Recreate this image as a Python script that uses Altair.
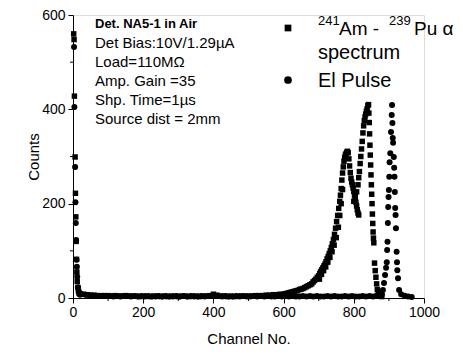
import altair as alt
import pandas as pd

# ---------------- data ----------------
# 241Am-239Pu alpha spectrum (squares)
alpha_ch = [2, 3, 4, 6, 7, 8, 9, 10, 11, 12, 14, 16, 18,
            20, 30, 40, 50, 60, 70, 80, 90, 100, 110, 120, 130, 140, 150, 160, 170, 180, 190,
            200, 210, 220, 230, 240, 250, 260, 270, 280, 290, 300, 310, 320, 330, 340, 350,
            360, 370, 380, 390, 400, 410, 420, 430, 440, 450, 460, 470, 480, 490, 500, 510,
            520, 530, 540, 550, 560, 570, 580, 590,
            600, 605, 610, 615, 620, 625, 630, 635, 640, 645, 650, 655, 660, 665, 670, 675,
            680, 684, 688, 692, 696, 700, 703, 706, 709, 712, 715, 718, 721, 724, 727, 730,
            733, 736, 739, 742, 745, 748, 751, 754, 757, 760, 762, 764, 766, 768, 770, 772,
            774, 776, 778, 780, 782, 784, 786, 788, 790, 792, 794, 796, 798, 800, 802, 804,
            806, 808, 810, 812, 814,
            702, 708, 714, 720, 726, 732, 738, 744, 750, 756, 760, 764, 768,
            800, 804, 808,
            812, 814, 816, 818, 820, 822, 824, 826, 828, 830, 832, 834, 836, 838, 840, 842,
            843, 844, 845, 846, 847, 848, 849, 850, 851, 852, 853, 854, 855, 856, 857, 859,
            861, 863, 865, 867, 870, 875, 880]
alpha_counts = [560, 548, 428, 299, 222, 172, 120, 82, 55, 35, 22, 14, 10,
                9, 8, 7, 6, 6, 5, 5, 5, 5, 4, 5, 4, 4, 5, 4, 4, 4, 3,
                4, 4, 3, 4, 4, 3, 4, 3, 4, 4, 3, 4, 4, 3, 4, 4,
                3, 4, 4, 5, 8, 6, 4, 4, 3, 4, 3, 4, 4, 4, 4, 4,
                5, 5, 5, 6, 6, 7, 7, 8,
                8, 9, 10, 11, 12, 13, 14, 15, 16, 18, 19, 20, 22, 24, 26, 28,
                30, 34, 37, 40, 44, 47, 52, 56, 60, 64, 68, 72, 77, 83, 88, 94,
                100, 107, 115, 124, 135, 148, 162, 175, 190, 205, 218, 232, 250, 265, 278, 290,
                298, 303, 306, 309, 311, 308, 295, 280, 266, 254, 246, 240, 233, 226, 219, 211,
                203, 195, 187, 180, 176,
                40, 50, 58, 66, 76, 86, 98, 112, 128, 150, 175, 200, 230,
                205, 215, 225,
                240, 255, 268, 285, 300, 316, 332, 350, 365, 376, 384, 390, 396, 401, 408, 410,
                392, 372, 348, 324, 303, 282, 261, 240, 220, 200, 178, 158, 140, 127, 117, 74,
                58, 44, 30, 18, 10, 5, 3]

# El Pulse (circles)
pulse_ch = [3, 4, 6, 7, 8, 9, 10, 11, 12, 14, 16, 18, 20,
            25, 35, 45, 55, 65, 75, 85, 95, 105, 115, 125, 135, 145, 155, 165, 175, 185, 195,
            205, 215, 225, 235, 245, 255, 265, 275, 285, 295, 305, 315, 325, 335, 345, 355,
            365, 375, 385, 395, 405, 415, 425, 435, 445, 455, 465, 475, 485, 495, 505, 515,
            525, 535, 545, 555, 565, 575, 585, 595, 605, 615, 625, 635, 645, 655, 665, 675,
            685, 695, 705, 715, 725, 735, 745, 755, 765, 775, 785, 795, 805, 815, 825, 835,
            845, 855, 865, 875,
            880, 883, 886, 889, 892, 894, 895, 896, 897, 898, 899, 900, 901, 902, 904, 906,
            908, 909, 910, 911, 912, 914, 915, 916, 917, 918, 919, 920, 922, 923, 924, 926,
            929, 935, 945, 955, 965]
pulse_counts = [532, 405, 278, 203, 159, 123, 81, 66, 45, 23, 13, 9, 7,
                8, 7, 6, 5, 5, 4, 4, 4, 4, 3, 4, 3, 4, 4, 3, 4, 3, 4,
                3, 4, 3, 3, 4, 3, 4, 3, 3, 4, 3, 4, 3, 4, 3, 3,
                4, 3, 4, 4, 5, 4, 3, 4, 3, 3, 4, 3, 4, 3, 3, 4,
                3, 4, 3, 4, 3, 3, 4, 3, 4, 3, 4, 3, 3, 4, 3, 4,
                3, 4, 3, 3, 4, 3, 4, 3, 3, 4, 3, 4, 3, 3, 4, 3,
                4, 3, 5, 6,
                8, 17, 32, 49, 64, 76, 102, 119, 159, 193, 214, 229, 257, 288, 307, 352,
                388, 409, 371, 339, 329, 299, 276, 257, 225, 191, 176, 148, 98, 76, 59, 42,
                17, 8, 5, 3, 2]

x_major = [0, 200, 400, 600, 800, 1000]
x_minor = [100, 300, 500, 700, 900]
y_major = [0, 200, 400, 600]
y_minor = [100, 300, 500]

info_title = "Det. NA5-1 in Air"
info_lines = ["Det Bias:10V/1.29\u00b5A", "Load=110M\u03a9", "Amp. Gain =35",
              "Shp. Time=1\u00b5s", "Source dist = 2mm"]

FONT = "Liberation Sans"
W, H = 351, 283

alpha_df = pd.DataFrame({"ch": alpha_ch, "counts": alpha_counts})
pulse_df = pd.DataFrame({"ch": pulse_ch, "counts": pulse_counts})

xs = alt.Scale(domain=[0, 1000], nice=False)
ys = alt.Scale(domain=[0, 600], nice=False)

xaxis = alt.Axis(values=x_major, format="d", title="Channel No.", grid=False, tickSize=5,
                 labelFontSize=14, titleFontSize=15, titleFontWeight="normal",
                 labelFont=FONT, titleFont=FONT, labelColor="black", titleColor="black",
                 domainColor="black", tickColor="black", labelPadding=2, titlePadding=12,
                 labelFlush=False, labelOverlap=False)
yaxis = alt.Axis(values=y_major, format="d", title="Counts", grid=False, tickSize=5,
                 labelFontSize=14, titleFontSize=15, titleFontWeight="normal",
                 labelFont=FONT, titleFont=FONT, labelColor="black", titleColor="black",
                 domainColor="black", tickColor="black", labelPadding=3, titlePadding=0,
                 labelFlush=False, labelOverlap=False)

alpha = alt.Chart(alpha_df).mark_point(shape="square", filled=True, size=30,
                                        color="black", opacity=1).encode(
    x=alt.X("ch:Q", scale=xs, axis=xaxis),
    y=alt.Y("counts:Q", scale=ys, axis=yaxis),
)
pulse = alt.Chart(pulse_df).mark_circle(size=36, color="black", opacity=1).encode(
    x=alt.X("ch:Q", scale=xs),
    y=alt.Y("counts:Q", scale=ys),
)

xminor = alt.Chart(pd.DataFrame({"v": x_minor})).mark_rule(color="black").encode(
    x=alt.X("v:Q", scale=xs), y=alt.value(H), y2=alt.value(H + 3))
yminor = alt.Chart(pd.DataFrame({"v": y_minor})).mark_rule(color="black").encode(
    y=alt.Y("v:Q", scale=ys), x=alt.value(0), x2=alt.value(-3))

one = alt.Data(values=[{"a": 1}])


def txt(s, x, y, size, weight="normal"):
    return alt.Chart(one).mark_text(align="left", baseline="alphabetic", font=FONT,
                                    fontSize=size, fontWeight=weight, color="black").encode(
        x=alt.value(x), y=alt.value(y), text=alt.value(s))


texts = [txt(info_title, 22, 13, 13, "bold")]
for i, s in enumerate(info_lines):
    texts.append(txt(s, 22, 33 + i * 19, 15))

leg_sq = alt.Chart(one).mark_point(shape="square", filled=True, size=45, color="black",
                                   opacity=1).encode(x=alt.value(215), y=alt.value(13))
leg_ci = alt.Chart(one).mark_circle(size=60, color="black", opacity=1).encode(
    x=alt.value(215), y=alt.value(65))
legend = [leg_sq, leg_ci,
          txt("241", 245, 10, 13), txt("Am -", 266, 20, 19),
          txt("239", 316, 10, 13), txt("Pu \u03b1", 341, 20, 19),
          txt("spectrum", 245, 44, 20), txt("El Pulse", 245, 72, 20)]

chart = alt.layer(xminor, yminor, alpha, pulse, *texts, *legend).properties(
    width=W, height=H,
    autosize=alt.AutoSizeParams(type="none"),
    padding={"left": 65, "top": 7, "right": 31, "bottom": 48},
).configure_view(stroke=None).configure(background="white")

chart.save("out.html", embed_options={"renderer": "svg", "actions": False})
